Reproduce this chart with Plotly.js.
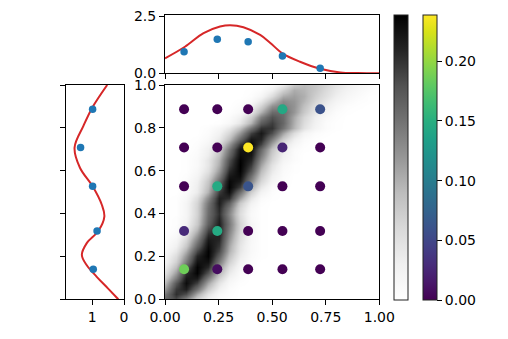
<!DOCTYPE html>
<html>
<head>
<meta charset="utf-8">
<script src="https://cdn.plot.ly/plotly-3.0.1.min.js"></script>
<style>
html, body { margin: 0; padding: 0; background: #fff; }
#graph { width: 508px; height: 339px; }
</style>
</head>
<body>
<div id="graph"></div>
<script>
// grid of the grey density image (0 = white, 100 = black)
var gridX = [0,0.05,0.1,0.15,0.2,0.25,0.3,0.35,0.4,0.45,0.5,0.55,0.6,0.65,0.7,0.75,0.8,0.85,0.9,0.95,1];
var gridY = [0,0.025,0.05,0.075,0.1,0.125,0.15,0.175,0.2,0.225,0.25,0.275,0.3,0.325,0.35,0.375,0.4,
             0.425,0.45,0.475,0.5,0.525,0.55,0.575,0.6,0.625,0.65,0.675,0.7,0.725,0.75,0.775,0.8,
             0.825,0.85,0.875,0.9,0.925,0.95,0.975,1];
var density = [
  [68,77,56,29,12,3,1,0,0,0,0,0,0,0,0,0,0,0,0,0,0],
  [61,85,76,44,20,6,2,0,0,0,0,0,0,0,0,0,0,0,0,0,0],
  [49,82,90,63,32,12,3,0,0,0,0,0,0,0,0,0,0,0,0,0,0],
  [38,73,96,80,45,19,6,1,0,0,0,0,0,0,0,0,0,0,0,0,0],
  [29,59,92,92,59,29,10,3,0,0,0,0,0,0,0,0,0,0,0,0,0],
  [21,48,85,99,74,39,16,4,1,0,0,0,0,0,0,0,0,0,0,0,0],
  [15,37,72,99,87,50,22,7,2,0,0,0,0,0,0,0,0,0,0,0,0],
  [10,29,60,94,94,60,29,10,3,0,0,0,0,0,0,0,0,0,0,0,0],
  [8,23,51,88,99,70,36,14,4,1,0,0,0,0,0,0,0,0,0,0,0],
  [5,17,42,78,99,78,42,17,5,1,0,0,0,0,0,0,0,0,0,0,0],
  [3,12,33,68,96,83,45,18,5,1,0,0,0,0,0,0,0,0,0,0,0],
  [2,8,26,58,92,87,50,21,6,1,0,0,0,0,0,0,0,0,0,0,0],
  [1,5,20,49,86,89,54,23,6,1,0,0,0,0,0,0,0,0,0,0,0],
  [0,3,15,40,79,90,58,26,7,1,0,0,0,0,0,0,0,0,0,0,0],
  [0,2,11,32,70,90,61,27,8,1,0,0,0,0,0,0,0,0,0,0,0],
  [0,2,9,30,67,88,59,25,6,1,0,0,0,0,0,0,0,0,0,0,0],
  [0,1,8,28,65,85,56,23,5,1,0,0,0,0,0,0,0,0,0,0,0],
  [0,1,8,28,64,87,61,26,7,1,0,0,0,0,0,0,0,0,0,0,0],
  [0,1,8,27,61,90,70,32,11,2,0,0,0,0,0,0,0,0,0,0,0],
  [0,1,6,23,54,89,85,47,18,4,1,0,0,0,0,0,0,0,0,0,0],
  [0,0,4,15,41,81,95,64,30,10,2,0,0,0,0,0,0,0,0,0,0],
  [0,0,3,14,37,73,99,81,43,17,4,1,0,0,0,0,0,0,0,0,0],
  [0,0,3,12,33,66,97,91,56,26,9,2,0,0,0,0,0,0,0,0,0],
  [0,0,2,9,27,57,92,96,64,32,12,3,0,0,0,0,0,0,0,0,0],
  [0,0,1,7,21,49,86,99,74,38,16,4,1,0,0,0,0,0,0,0,0],
  [0,0,1,5,18,43,79,100,82,46,20,6,1,0,0,0,0,0,0,0,0],
  [0,0,1,5,18,40,75,99,88,53,26,9,3,0,0,0,0,0,0,0,0],
  [0,0,1,4,14,35,67,96,93,60,30,12,3,0,0,0,0,0,0,0,0],
  [0,0,0,3,12,30,60,93,96,67,35,15,4,1,0,0,0,0,0,0,0],
  [0,0,0,2,8,23,49,82,98,80,46,21,8,2,0,0,0,0,0,0,0],
  [0,0,0,1,5,16,36,66,92,88,59,31,13,4,1,0,0,0,0,0,0],
  [0,0,0,0,3,11,26,50,80,92,76,46,23,9,3,1,0,0,0,0,0],
  [0,0,0,0,2,7,17,36,62,84,84,63,40,20,9,3,1,0,0,0,0],
  [0,0,0,0,0,1,6,18,41,71,81,67,42,23,11,3,1,0,0,0,0],
  [0,0,0,0,0,0,3,12,30,58,75,66,44,26,13,5,2,0,0,0,0],
  [0,0,0,0,0,0,1,5,18,41,65,65,50,32,18,9,3,1,0,0,0],
  [0,0,0,0,0,0,0,3,11,28,52,59,51,36,22,13,6,2,1,0,0],
  [0,0,0,0,0,0,0,1,5,17,37,54,50,40,27,17,9,5,2,1,0],
  [0,0,0,0,0,0,0,0,2,8,23,43,47,42,30,21,13,7,4,1,1],
  [0,0,0,0,0,0,0,0,1,3,12,29,43,40,33,24,16,10,6,3,1],
  [0,0,0,0,0,0,0,0,0,1,5,16,33,38,34,27,19,13,8,5,2]
];

// coloured points on the main panel
var pointX = [0.089, 0.244, 0.388, 0.548, 0.724];
var pointY = [0.14, 0.319, 0.527, 0.708, 0.887];
var pointVal = [
  [0.186, 0.008, 0, 0, 0],
  [0.028, 0.145, 0, 0, 0],
  [0, 0.145, 0.062, 0, 0],
  [0, 0, 0.2387, 0.024, 0],
  [0, 0, 0, 0.143, 0.06]
];
var valMax = 0.2387;

// top marginal
var topCurveX = [0, 0.093, 0.18, 0.257, 0.304, 0.366, 0.444, 0.49, 0.548, 0.63, 0.724, 0.818, 0.9, 1.0];
var topCurveY = [0.66, 1.17, 1.77, 2.06, 2.12, 2.03, 1.69, 1.35, 0.88, 0.51, 0.2, 0.04, 0.01, 0.0];
var topDots = [0.95, 1.50, 1.39, 0.76, 0.22];

// left marginal
var leftCurveY = [0.0, 0.05, 0.105, 0.16, 0.207, 0.261, 0.319, 0.386, 0.441, 0.527, 0.614, 0.708, 0.809, 0.892, 1.0];
var leftCurveX = [0.18, 0.50, 0.86, 1.18, 1.33, 1.18, 0.81, 0.62, 0.70, 0.99, 1.39, 1.56, 1.28, 1.01, 0.53];
var leftDots = [0.97, 0.85, 0.99, 1.37, 0.99];

var mainTicks = [0, 0.25, 0.5, 0.75, 1];
var mainTickText = ["0.00", "0.25", "0.50", "0.75", "1.00"];
var yTicks = [0, 0.2, 0.4, 0.6, 0.8, 1];
var yTickText = ["0.0", "0.2", "0.4", "0.6", "0.8", "1.0"];
var cbTicks = [0, 0.05, 0.1, 0.15, 0.2];
var cbTickText = ["0.00", "0.05", "0.10", "0.15", "0.20"];

var W = 508, H = 339;
var greys = [[0,'#ffffff'],[0.125,'#f0f0f0'],[0.25,'#d9d9d9'],[0.375,'#bdbdbd'],[0.5,'#969696'],
             [0.625,'#737373'],[0.75,'#525252'],[0.875,'#252525'],[1,'#000000']];

var px = [], py = [], pc = [];
for (var j = 0; j < pointY.length; j++) {
  for (var i = 0; i < pointX.length; i++) {
    px.push(pointX[i]); py.push(pointY[j]); pc.push(pointVal[j][i]);
  }
}

var heat = {
  type: 'heatmap', x: gridX, y: gridY, z: density,
  zmin: 0, zmax: 100, zsmooth: 'best', colorscale: greys,
  hoverinfo: 'skip',
  colorbar: {
    x: 394 / W, xanchor: 'left', y: 1 - 300 / H, yanchor: 'bottom',
    len: 285, lenmode: 'pixels', thickness: 14, thicknessmode: 'pixels',
    xpad: 0, ypad: 0, outlinewidth: 1, outlinecolor: '#222',
    ticks: '', showticklabels: false
  }
};
var pts = {
  type: 'scatter', mode: 'markers', x: px, y: py,
  marker: {
    size: 10, color: pc, cmin: 0, cmax: valMax, colorscale: 'Viridis',
    line: {width: 0}, showscale: true,
    colorbar: {
      x: 423 / W, xanchor: 'left', y: 1 - 300 / H, yanchor: 'bottom',
      len: 285, lenmode: 'pixels', thickness: 14, thicknessmode: 'pixels',
      xpad: 0, ypad: 0, outlinewidth: 1, outlinecolor: '#222',
      tickvals: cbTicks, ticktext: cbTickText, ticks: 'outside', ticklen: 5,
      tickwidth: 1, tickcolor: '#000', tickfont: {size: 14, color: '#000'}
    }
  }
};
var topLine = {
  type: 'scatter', mode: 'lines', x: topCurveX, y: topCurveY, xaxis: 'x2', yaxis: 'y2',
  line: {color: '#d62728', width: 2, shape: 'spline'}
};
var topPts = {
  type: 'scatter', mode: 'markers', x: pointX, y: topDots, xaxis: 'x2', yaxis: 'y2',
  marker: {color: '#1f77b4', size: 7.5}
};
var leftLine = {
  type: 'scatter', mode: 'lines', x: leftCurveX, y: leftCurveY, xaxis: 'x3', yaxis: 'y3',
  line: {color: '#d62728', width: 2, shape: 'spline'}
};
var leftPts = {
  type: 'scatter', mode: 'markers', x: leftDots, y: pointY, xaxis: 'x3', yaxis: 'y3',
  marker: {color: '#1f77b4', size: 7.5}
};

function ax(extra) {
  var a = {
    showgrid: false, zeroline: false, showline: true, mirror: true,
    linecolor: '#000', linewidth: 1, ticks: 'outside', ticklen: 5, tickwidth: 1,
    tickcolor: '#000', tickfont: {size: 14, color: '#000'}, fixedrange: true
  };
  for (var k in extra) a[k] = extra[k];
  return a;
}

var mainXDom = [165 / W, 379.3 / W];
var mainYDom = [1 - 299.3 / H, 1 - 85 / H];

var layout = {
  width: W, height: H,
  margin: {l: 0, r: 0, t: 0, b: 0},
  paper_bgcolor: '#fff', plot_bgcolor: '#fff',
  font: {family: 'DejaVu Sans', size: 14, color: '#000'},
  showlegend: false,
  xaxis: ax({domain: mainXDom, range: [0, 1], tickvals: mainTicks, ticktext: mainTickText, anchor: 'y'}),
  yaxis: ax({domain: mainYDom, range: [0, 1], tickvals: yTicks, ticktext: yTickText, anchor: 'x'}),
  xaxis2: ax({domain: mainXDom, range: [0, 1], tickvals: mainTicks, showticklabels: false, anchor: 'y2'}),
  yaxis2: ax({domain: [1 - 73.3 / H, 1 - 15 / H], range: [0, 2.57], tickvals: [0, 2.5], ticktext: ['0.0', '2.5'], anchor: 'x2'}),
  xaxis3: ax({domain: [66 / W, 124 / W], range: [1.83, 0], tickvals: [0, 1], ticktext: ['0', '1'], anchor: 'y3'}),
  yaxis3: ax({domain: mainYDom, range: [0, 1], tickvals: yTicks, showticklabels: false, anchor: 'x3'})
};

Plotly.newPlot('graph', [heat, pts, topLine, topPts, leftLine, leftPts], layout, {staticPlot: true});
</script>
</body>
</html>
